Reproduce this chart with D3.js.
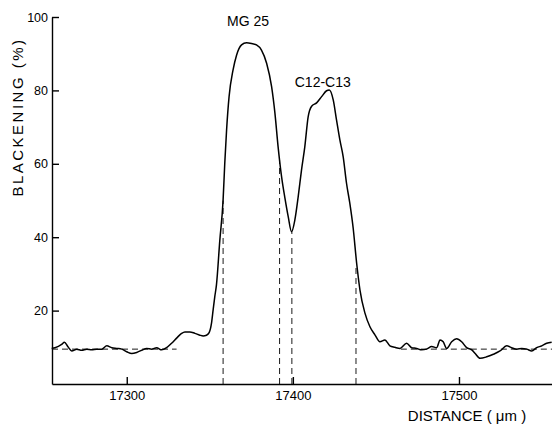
<!DOCTYPE html>
<html>
<head>
<meta charset="utf-8">
<script src="https://cdn.jsdelivr.net/npm/d3@7"></script>
<style>
  html, body { margin: 0; padding: 0; background: #fff; }
  svg { display: block; }
  .tick text { font-family: "Liberation Sans", Arial, sans-serif; }
</style>
</head>
<body>
<svg id="chart" width="552" height="424"></svg>
<script>
// ---- data ----
const distance = [
  17254.8, 17256.8, 17260.8, 17262.5, 17264.5, 17266.9, 17269.9, 17272.9, 17275.9, 17278.9,
  17281.9, 17284.9, 17288.0, 17291.0, 17294.0, 17297.0, 17300.0, 17303.0, 17306.0, 17309.0,
  17312.0, 17315.0, 17318.0, 17321.0, 17324.0, 17327.0, 17330.0, 17333.0, 17335.0, 17338.0,
  17341.0, 17344.0, 17346.0, 17348.0, 17349.6, 17351.0, 17352.0, 17353.0, 17354.0, 17356.0,
  17358.0, 17359.0, 17360.1, 17361.6, 17364.0, 17366.1, 17369.1, 17372.1, 17375.1, 17378.1,
  17381.1, 17384.2, 17387.2, 17389.2, 17391.1, 17393.2, 17395.2, 17397.2, 17399.2, 17401.2,
  17403.2, 17405.2, 17407.2, 17409.2, 17411.3, 17414.3, 17417.3, 17420.3, 17421.9, 17424.3,
  17426.3, 17428.3, 17430.3, 17432.3, 17434.3, 17436.3, 17438.4, 17440.4, 17443.4, 17446.4,
  17449.4, 17452.4, 17455.4, 17458.4, 17461.4, 17464.5, 17468.5, 17471.5, 17474.5, 17477.5,
  17480.5, 17483.6, 17486.6, 17488.6, 17490.5, 17492.6, 17495.6, 17498.6, 17501.6, 17504.6,
  17507.7, 17509.6, 17512.7, 17516.7, 17520.7, 17524.7, 17528.7, 17531.7, 17534.8, 17537.8,
  17540.8, 17543.8, 17546.8, 17549.8, 17552.8, 17555.8
];
const blackening = [
  9.7, 9.9, 10.8, 11.4, 10.2, 9.0, 9.5, 9.2, 9.5, 9.3,
  9.5, 9.5, 10.4, 9.9, 9.7, 9.5, 8.8, 8.3, 8.6, 9.2,
  9.7, 9.5, 9.9, 9.3, 9.9, 11.1, 12.5, 13.8, 14.2, 14.2,
  13.8, 13.3, 13.1, 13.3, 14.0, 16.5, 20.2, 23.8, 27.0, 39.0,
  50.1, 60.1, 69.2, 78.3, 85.6, 89.6, 92.4, 93.0, 92.8, 92.4,
  91.0, 87.4, 81.0, 73.8, 64.7, 56.5, 50.7, 45.6, 41.5, 44.7,
  51.0, 58.3, 64.7, 72.8, 75.7, 76.6, 78.3, 79.9, 80.1, 77.4,
  71.9, 66.5, 61.9, 54.7, 49.2, 42.5, 32.9, 25.6, 19.3, 15.6,
  13.4, 11.5, 12.0, 10.4, 10.0, 9.7, 11.1, 9.9, 9.7, 9.3,
  9.5, 10.2, 9.9, 12.0, 11.5, 9.7, 11.5, 12.3, 11.5, 9.9,
  9.3, 8.4, 7.0, 7.4, 8.1, 9.0, 10.4, 9.9, 9.5, 9.7,
  9.5, 9.0, 9.9, 10.4, 11.1, 11.4
];
// vertical dashed markers: position and height they reach
const markerX = [17358, 17392, 17399.4, 17438];
const markerTop = [50, 61, 41.5, 32];
// horizontal dashed background level and its two visible spans
const baselineLevel = 9.5;
const baselineSpans = [[17255, 17330], [17465, 17556]];
const xTicks = [17300, 17400, 17500];
const yTicks = [20, 40, 60, 80, 100];
const peakLabels = ["MG 25", "C12-C13"];
const peakLabelX = [17373, 17418];
const peakLabelY = [97.5, 81];
const xTitle = "DISTANCE ( μm )";
const yTitle = "BLACKENING (%)";

// ---- drawing ----
const svg = d3.select("#chart");
const x = d3.scaleLinear().domain([17255, 17556]).range([52, 552]);
const y = d3.scaleLinear().domain([0, 100]).range([384, 17]);

const gx = svg.append("g").attr("transform", "translate(0,384)")
  .call(d3.axisBottom(x).tickValues(xTicks).tickFormat(d3.format("d"))
    .tickSizeInner(-7).tickSizeOuter(0).tickPadding(7));
const gy = svg.append("g").attr("transform", "translate(52,0)")
  .call(d3.axisLeft(y).tickValues(yTicks).tickFormat(d3.format("d"))
    .tickSizeInner(-7).tickSizeOuter(0).tickPadding(4));
[gx, gy].forEach(g => {
  g.selectAll("path.domain").attr("stroke", "#000").attr("stroke-width", 1.4);
  g.selectAll(".tick line").attr("stroke", "#000").attr("stroke-width", 1.4);
  g.selectAll(".tick text").attr("fill", "#000");
});
gx.selectAll(".tick text").attr("font-size", 13);
gy.selectAll(".tick text").attr("font-size", 12.5);

// dashed baseline spans
svg.append("g").selectAll("line").data(baselineSpans).join("line")
  .attr("x1", d => x(d[0])).attr("x2", d => x(d[1]))
  .attr("y1", y(baselineLevel)).attr("y2", y(baselineLevel))
  .attr("stroke", "#000").attr("stroke-width", 0.9).attr("stroke-dasharray", "6,4");

// vertical dashed markers
svg.append("g").selectAll("line").data(markerX).join("line")
  .attr("x1", d => x(d)).attr("x2", d => x(d))
  .attr("y1", y(0)).attr("y2", (d, i) => y(markerTop[i]))
  .attr("stroke", "#000").attr("stroke-width", 0.9).attr("stroke-dasharray", "6,4");

// curve
const pts = distance.map((d, i) => [d, blackening[i]]);
svg.append("path").datum(pts)
  .attr("fill", "none").attr("stroke", "#000").attr("stroke-width", 1.5)
  .attr("stroke-linejoin", "round")
  .attr("d", d3.line().x(d => x(d[0])).y(d => y(d[1])).curve(d3.curveMonotoneX));

// peak labels
svg.append("g").selectAll("text").data(peakLabels).join("text")
  .attr("x", (d, i) => x(peakLabelX[i])).attr("y", (d, i) => y(peakLabelY[i]))
  .attr("text-anchor", "middle")
  .attr("font-family", "'Liberation Sans', Arial, sans-serif").attr("font-size", 14)
  .text(d => d);

// axis titles
svg.append("text").attr("x", 467).attr("y", 421).attr("text-anchor", "middle")
  .attr("font-family", "'Liberation Sans', Arial, sans-serif").attr("font-size", 15)
  .text(xTitle);
svg.append("text").attr("transform", "translate(23,117) rotate(-90)").attr("text-anchor", "middle")
  .attr("font-family", "'Liberation Sans', Arial, sans-serif").attr("font-size", 15)
  .attr("letter-spacing", 2.5)
  .text(yTitle);
</script>
</body>
</html>
